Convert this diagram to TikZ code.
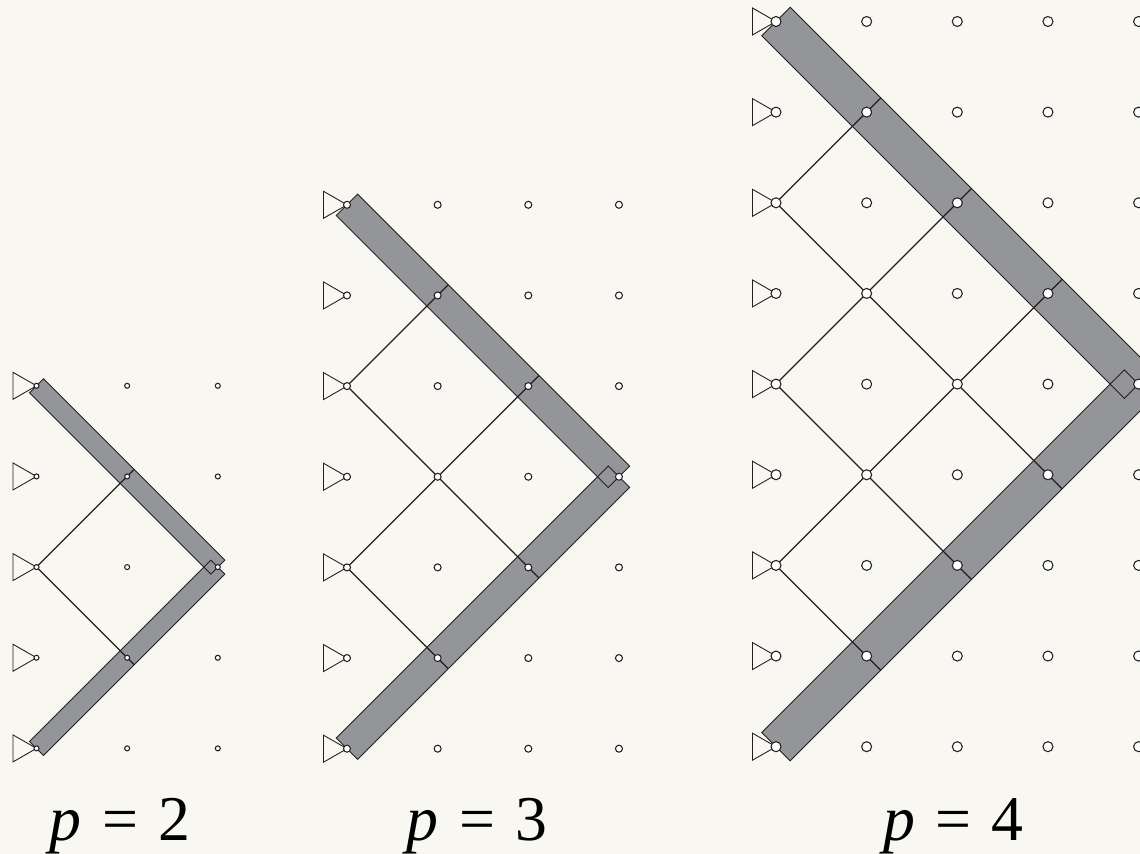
\documentclass[tikz,border=0pt]{standalone}
\usepackage{fontspec}
\setmainfont{Liberation Serif}
\usetikzlibrary{calc,backgrounds}
\definecolor{paperbg}{HTML}{F8F7F1}
\definecolor{bandgray}{HTML}{939598}
\definecolor{qink}{HTML}{231F20}

\begin{document}
\begin{tikzpicture}[x=0.02cm, y=-0.02cm, text=black,
    wire/.style={draw=qink, line width=0.7pt},
    outline/.style={draw=qink, line width=0.5pt, line join=miter},
    band/.style={fill=bandgray, draw=none},
    gate/.style={draw=qink, line width=0.5pt, line join=miter},
    qubit/.style={circle, draw=qink, fill=white, line width=0.6pt, inner sep=0pt},
    plabel/.style={anchor=base, font=\fontsize{36.3}{40}\selectfont},
  ]
  \useasboundingbox (0,0) rectangle (1140,854);

  % paper colour goes first, everything else sits on top
  \begin{scope}[on background layer]
    \fill[paperbg] (0,0) rectangle (1140,854);
  \end{scope}

  % p / first column x / top row y / half width of band / dot size / label x
  \foreach \pp/\xa/\ya/\off/\dia/\xl in {2/36.5/385.8/7/5/120, 3/347/204.8/10.7/7/477, 4/776/21.5/14.2/10/953.5} {
    \pgfmathtruncatemacro{\rmax}{2*\pp}
    \pgfmathtruncatemacro{\pq}{\pp-1}

    % grid of qubits, kept above the bands and wires
    \foreach \c in {0,...,\pp} {
      \foreach \r in {0,...,\rmax} {
        \node[qubit, minimum size=\dia*0.02cm] (p\pp-\c-\r) at (\xa+\c*90.65, \ya+\r*90.65) {};
      }
    }

    \begin{scope}[on background layer]
      % the two bands, filled first so that their crossing shows as a diamond
      \path[band] ($(p\pp-0-0)+(\off,-\off)$) -- ($(p\pp-\pp-\pp)+(\off,-\off)$)
        -- ($(p\pp-\pp-\pp)+(-\off,\off)$) -- ($(p\pp-0-0)+(-\off,\off)$) -- cycle;
      \path[band] ($(p\pp-0-\rmax)+(\off,\off)$) -- ($(p\pp-\pp-\pp)+(\off,\off)$)
        -- ($(p\pp-\pp-\pp)+(-\off,-\off)$) -- ($(p\pp-0-\rmax)+(-\off,-\off)$) -- cycle;
      \draw[outline] ($(p\pp-0-0)+(\off,-\off)$) -- ($(p\pp-\pp-\pp)+(\off,-\off)$)
        -- ($(p\pp-\pp-\pp)+(-\off,\off)$) -- ($(p\pp-0-0)+(-\off,\off)$) -- cycle;
      \draw[outline] ($(p\pp-0-\rmax)+(\off,\off)$) -- ($(p\pp-\pp-\pp)+(\off,\off)$)
        -- ($(p\pp-\pp-\pp)+(-\off,-\off)$) -- ($(p\pp-0-\rmax)+(-\off,-\off)$) -- cycle;

      % wires: up and down from every second row, on across the band
      \foreach \k in {1,...,\pq} {
        \pgfmathtruncatemacro{\rin}{2*\k}
        \pgfmathtruncatemacro{\cdn}{\pp-\k}
        \pgfmathtruncatemacro{\rdn}{\pp+\k}
        \foreach \j in {1,...,\k} {
          \pgfmathtruncatemacro{\cs}{\j-1}
          \pgfmathtruncatemacro{\rs}{\rin-\j+1}
          \pgfmathtruncatemacro{\re}{\rin-\j}
          \draw[wire] (p\pp-\cs-\rs.center) -- (p\pp-\j-\re.center);
        }
        \foreach \j in {1,...,\cdn} {
          \pgfmathtruncatemacro{\cs}{\j-1}
          \pgfmathtruncatemacro{\rs}{\rin+\j-1}
          \pgfmathtruncatemacro{\re}{\rin+\j}
          \draw[wire] (p\pp-\cs-\rs.center) -- (p\pp-\j-\re.center);
        }
        \coordinate (up\pp-\k) at ($(p\pp-\k-\k)+(\off,-\off)$);
        \coordinate (dn\pp-\k) at ($(p\pp-\cdn-\rdn)+(\off,\off)$);
        \draw[wire] (p\pp-\k-\k.center) -- (up\pp-\k);
        \draw[wire] (p\pp-\cdn-\rdn.center) -- (dn\pp-\k);
      }

      % input triangles in front of the first column
      \foreach \r in {0,...,\rmax} {
        \draw[gate] (p\pp-0-\r.center) -- ++(-23.5,-13.5) -- ++(0,27) -- cycle;
      }
    \end{scope}

    \node[plabel] (lab\pp) at (\xl, 840) {\textit{p}\hspace{0.32em}=\hspace{0.32em}\pp};
  }
\end{tikzpicture}
\end{document}
